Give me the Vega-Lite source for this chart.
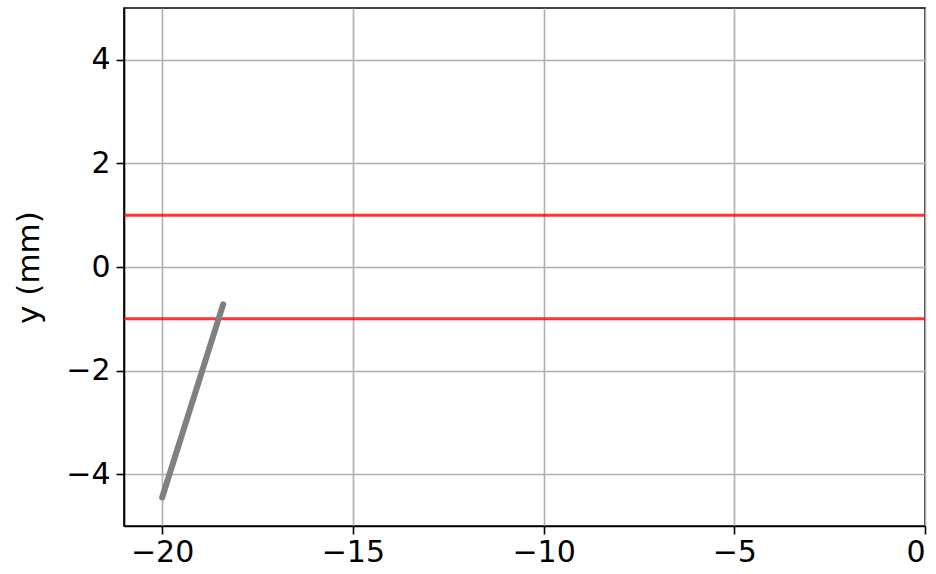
{
  "$schema": "https://vega.github.io/schema/vega-lite/v6.json",
  "autosize": "none",
  "width": 801,
  "height": 518,
  "padding": {"left": 124, "top": 8, "right": 11, "bottom": 48},
  "background": "white",
  "config": {
    "font": "DejaVu Sans",
    "view": {"stroke": "black", "strokeWidth": 1.6},
    "axis": {
      "labelFont": "DejaVu Sans",
      "labelFontSize": 30,
      "labelColor": "black",
      "titleFont": "DejaVu Sans",
      "titleFontSize": 31,
      "titleFontWeight": "normal",
      "titleColor": "black",
      "gridColor": "#b0b0b0",
      "gridWidth": 1.6,
      "gridOpacity": 1,
      "domainColor": "black",
      "domainWidth": 1.6,
      "tickColor": "black",
      "tickWidth": 1.6,
      "tickSize": 8,
      "labelPadding": 6
    }
  },
  "datasets": {
    "bounds": [{"y": 1}, {"y": -1}],
    "track": [{"x": -20.0, "y": -4.45}, {"x": -18.4, "y": -0.72}]
  },
  "layer": [
    {
      "data": {"name": "bounds"},
      "mark": {"type": "rule", "color": "#ff0000", "opacity": 0.8, "strokeWidth": 3},
      "encoding": {
        "y": {
          "field": "y",
          "type": "quantitative",
          "scale": {"domain": [-5, 5], "nice": false, "zero": false},
          "axis": {"values": [-4, -2, 0, 2, 4], "title": "y (mm)", "titlePadding": 20}
        }
      }
    },
    {
      "data": {"name": "track"},
      "mark": {"type": "line", "color": "#808080", "strokeWidth": 6, "strokeCap": "round"},
      "encoding": {
        "x": {
          "field": "x",
          "type": "quantitative",
          "scale": {"domain": [-21, 0], "nice": false, "zero": false},
          "axis": {"values": [-20, -15, -10, -5, 0], "title": null, "labelPadding": 3}
        },
        "y": {"field": "y", "type": "quantitative"}
      }
    }
  ]
}
